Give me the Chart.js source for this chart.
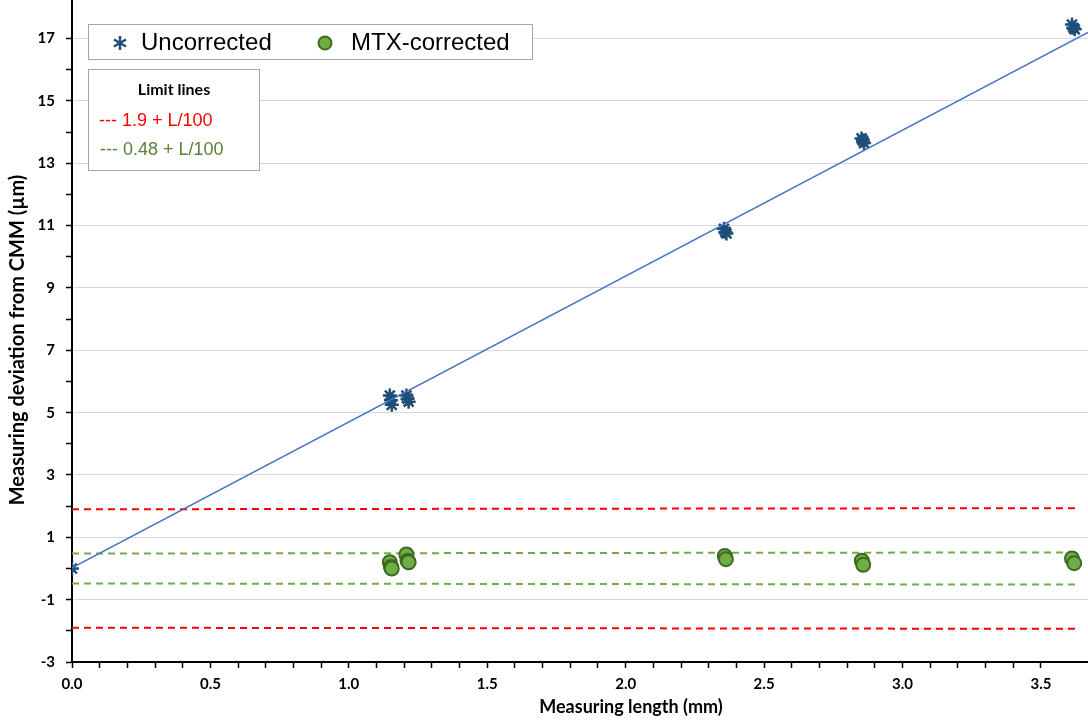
<!DOCTYPE html>
<html>
<head>
<meta charset="utf-8">
<script src="https://cdn.jsdelivr.net/npm/chart.js@4.4.1/dist/chart.umd.min.js"></script>
<style>
  html, body { margin: 0; padding: 0; background: #fff; }
  #wrap { width: 1088px; height: 720px; position: relative; }
</style>
</head>
<body>
<div id="wrap"><canvas id="myChart"></canvas></div>
<script>
// values
var uncorrX = [0, 1.148, 1.152, 1.155, 1.208, 1.212, 1.216, 2.355, 2.36, 2.364, 2.852, 2.857, 2.861, 3.612, 3.617, 3.622];
var uncorrY = [0, 5.55, 5.40, 5.25, 5.55, 5.45, 5.35, 10.9, 10.8, 10.75, 13.8, 13.73, 13.65, 17.45, 17.35, 17.3];
var mtxX = [1.148, 1.152, 1.155, 1.208, 1.212, 1.216, 2.358, 2.362, 2.853, 2.858, 3.612, 3.62];
var mtxY = [0.2, 0.05, 0.0, 0.45, 0.25, 0.2, 0.4, 0.3, 0.25, 0.12, 0.32, 0.17];
var trendX = [0, 3.67];
var trendY = [0.02, 17.2];
var limitX = [0, 3.64];
var redUpper = [1.9, 1.936];     // 1.9 + L/100
var redLower = [-1.9, -1.936];
var greenUpper = [0.48, 0.516];  // 0.48 + L/100
var greenLower = [-0.48, -0.516];

var xTitle = 'Measuring length (mm)';
var yTitle = 'Measuring deviation from CMM (µm)';

var tickFont = { family: 'Lato', size: 15, weight: 'bold' };

function pts(xs, ys) {
    return xs.map(function (x, i) { return { x: x, y: ys[i] }; });
}

function drawStar(c, x, y, r) {
    c.beginPath();
    c.moveTo(x, y - r); c.lineTo(x, y + r);
    c.moveTo(x - r * 0.87, y - r * 0.5); c.lineTo(x + r * 0.87, y + r * 0.5);
    c.moveTo(x - r * 0.87, y + r * 0.5); c.lineTo(x + r * 0.87, y - r * 0.5);
    c.stroke();
}

// axis titles (off-centre in the original) and the two key boxes
var annotations = {
    id: 'annotations',
    afterDraw: function (chart) {
        var c = chart.ctx;
        c.save();
        c.fillStyle = '#000';
        c.textAlign = 'center';
        c.textBaseline = 'middle';
        c.font = 'bold 18px Lato, sans-serif';
        c.fillText(xTitle, 631, 707);
        c.save();
        c.translate(18, 340);
        c.rotate(-Math.PI / 2);
        c.font = 'bold 20px Lato, sans-serif';
        c.fillText(yTitle, 0, 0);
        c.restore();

        c.fillStyle = '#fff';
        c.strokeStyle = '#a6a6a6';
        c.lineWidth = 1;
        c.fillRect(88.5, 24.5, 444, 35);
        c.strokeRect(88.5, 24.5, 444, 35);
        c.fillRect(88.5, 69.5, 171, 101);
        c.strokeRect(88.5, 69.5, 171, 101);

        c.strokeStyle = '#1F4E79';
        c.lineWidth = 2.5;
        drawStar(c, 120, 43, 7);

        c.beginPath();
        c.arc(325, 43, 6.5, 0, Math.PI * 2);
        c.fillStyle = '#70AD47';
        c.fill();
        c.strokeStyle = '#3A6B1E';
        c.lineWidth = 2;
        c.stroke();

        c.fillStyle = '#000';
        c.textAlign = 'left';
        c.font = '24px "Liberation Sans", Arial, sans-serif';
        c.fillText('Uncorrected', 141, 43);
        c.fillText('MTX-corrected', 351, 43);

        c.textAlign = 'center';
        c.font = 'bold 16px Lato, sans-serif';
        c.fillText('Limit lines', 174, 90);

        c.textAlign = 'left';
        c.font = '18px "Liberation Sans", Arial, sans-serif';
        c.fillStyle = '#FF0000';
        c.fillText('--- 1.9 + L/100', 99, 121);
        c.fillStyle = '#548235';
        c.fillText('--- 0.48 + L/100', 100, 150);
        c.restore();
    }
};

var ctx = document.getElementById('myChart');
new Chart(ctx, {
    type: 'scatter',
    data: {
        datasets: [{
            label: 'Trend',
            data: pts(trendX, trendY),
            showLine: true,
            borderColor: '#4472C4',
            borderWidth: 1.5,
            pointRadius: 0
        }, {
            label: 'Uncorrected',
            data: pts(uncorrX, uncorrY),
            pointStyle: 'star',
            pointRadius: 7,
            borderColor: '#1F4E79',
            backgroundColor: '#1F4E79',
            pointBorderWidth: 2.5
        }, {
            label: 'MTX-corrected',
            data: pts(mtxX, mtxY),
            pointStyle: 'circle',
            pointRadius: 7,
            backgroundColor: '#70AD47',
            borderColor: '#3A6B1E',
            pointBorderWidth: 2
        }, {
            label: 'red up',
            data: pts(limitX, redUpper),
            showLine: true, pointRadius: 0,
            borderColor: '#FF0000', borderWidth: 2, borderDash: [7, 5]
        }, {
            label: 'red low',
            data: pts(limitX, redLower),
            showLine: true, pointRadius: 0,
            borderColor: '#FF0000', borderWidth: 2, borderDash: [7, 5]
        }, {
            label: 'green up',
            data: pts(limitX, greenUpper),
            showLine: true, pointRadius: 0,
            borderColor: '#70AD47', borderWidth: 2, borderDash: [7, 5]
        }, {
            label: 'green low',
            data: pts(limitX, greenLower),
            showLine: true, pointRadius: 0,
            borderColor: '#70AD47', borderWidth: 2, borderDash: [7, 5]
        }]
    },
    options: {
        responsive: true,
        maintainAspectRatio: false,
        animation: false,
        layout: { padding: 0, autoPadding: false },
        plugins: {
            legend: { display: false },
            tooltip: { enabled: false }
        },
        scales: {
            x: {
                type: 'linear',
                min: 0,
                max: 3.67,
                afterBuildTicks: function (axis) {
                    axis.ticks = axis.ticks.filter(function (t) {
                        return Math.abs(t.value * 10 - Math.round(t.value * 10)) < 1e-6;
                    });
                },
                afterFit: function (s) {
                    s.height = 58;
                    s.paddingLeft = 0; s.paddingRight = 0;
                },
                border: { color: '#000', width: 2 },
                grid: { drawOnChartArea: false, tickLength: 6, tickColor: '#000', tickWidth: 1.5 },
                ticks: {
                    stepSize: 0.1,
                    autoSkip: false,
                    maxRotation: 0,
                    padding: 7,
                    color: '#000',
                    font: tickFont,
                    callback: function (v) {
                        return Math.abs(v * 2 - Math.round(v * 2)) < 1e-6 ? v.toFixed(1) : '';
                    }
                }
            },
            y: {
                min: -3,
                max: 18.24,
                afterBuildTicks: function (axis) {
                    axis.ticks = axis.ticks.filter(function (t) { return Number.isInteger(t.value); });
                },
                afterFit: function (s) {
                    s.width = 72;
                    s.paddingTop = 0; s.paddingBottom = 0;
                },
                border: { color: '#000', width: 2 },
                grid: {
                    tickLength: 6,
                    tickColor: '#000',
                    tickWidth: 1.5,
                    color: function (c) {
                        return Math.abs(c.tick.value % 2) === 1 ? '#d9d9d9' : 'rgba(0,0,0,0)';
                    }
                },
                ticks: {
                    stepSize: 1,
                    padding: 11,
                    color: '#000',
                    font: tickFont,
                    callback: function (v) { return Math.abs(v % 2) === 1 ? v : ''; }
                }
            }
        }
    },
    plugins: [annotations]
});
</script>
</body>
</html>
